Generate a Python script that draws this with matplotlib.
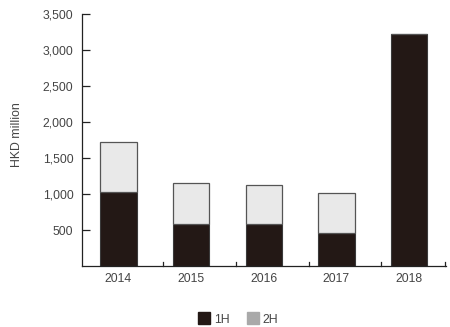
import matplotlib
matplotlib.use('Agg')
import matplotlib.pyplot as plt
from matplotlib.patches import Patch
import numpy as np

years = ['2014', '2015', '2016', '2017', '2018']
first_half = [1035, 590, 595, 465, 3220]
full_year = [1720, 1150, 1130, 1015, 3220]
second_half = [t - h for t, h in zip(full_year, first_half)]

plt.rcParams['font.family'] = ['Liberation Sans', 'DejaVu Sans']
dark = '#231815'
light = '#e9e9e9'
txt = '#444444'
fs = 8.8

fig = plt.figure(figsize=(4.5, 3.27), dpi=100)
ax = fig.add_axes([0.1816, 0.1853, 0.8088, 0.7717])

x = np.arange(len(years))
ax.bar(x, first_half, width=0.5, color=dark, edgecolor='#3a3a3a', linewidth=0.8)
ax.bar(x, second_half, width=0.5, bottom=first_half, color=light,
       edgecolor='#555555', linewidth=0.9)

ax.set_xlim(-0.505, 4.505)
ax.set_ylim(0, 3500)
ax.set_yticks([500, 1000, 1500, 2000, 2500, 3000, 3500])
ax.yaxis.set_major_formatter(matplotlib.ticker.StrMethodFormatter('{x:,.0f}'))
ax.set_xticks(x)
ax.set_xticklabels(years)
ax.tick_params(axis='x', length=0, pad=5, labelsize=fs, labelcolor=txt)
ax.tick_params(axis='y', direction='in', length=6, width=0.9, pad=6,
               labelsize=fs, labelcolor=txt, color='#222222')

# small separators between the years on the x axis
for xs in list(x[:-1] + 0.62) + [4.5]:
    ax.plot([xs, xs], [0, 65], color='#222222', lw=0.9, clip_on=False)

for s in ['top', 'right']:
    ax.spines[s].set_visible(False)
for s in ['left', 'bottom']:
    ax.spines[s].set_color('#222222')
    ax.spines[s].set_linewidth(0.9)

fig.text(17 / 450, 1 - 135 / 327, 'HKD million', rotation=90, ha='center',
         va='center', fontsize=fs, color=txt)

handles = [Patch(facecolor=dark, edgecolor=dark, label='1H'),
           Patch(facecolor='#a9a9a9', edgecolor='#a9a9a9', label='2H')]
fig.legend(handles=handles, loc='center', bbox_to_anchor=(238 / 450, 1 - 319 / 327),
           ncol=2, frameon=False, fontsize=fs, handlelength=1.0, handleheight=1.1,
           handletextpad=0.3, columnspacing=1.4, labelcolor=txt)

fig.savefig('out.png', dpi=100)
